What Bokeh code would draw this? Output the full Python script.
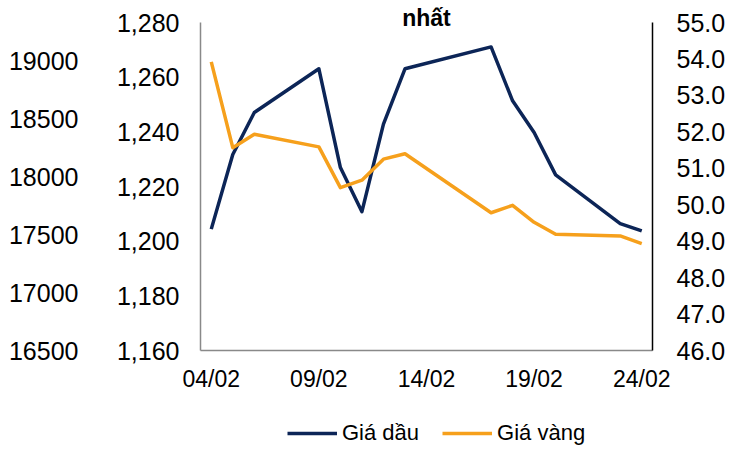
from bokeh.plotting import figure
from bokeh.layouts import column
from bokeh.models import (Range1d, LinearAxis, FixedTicker,
                          NumeralTickFormatter, Legend, LegendItem, Label)
from bokeh.embed import file_html
from bokeh.resources import INLINE

# ---- data ----
days = [4, 5, 6, 9, 10, 11, 12, 13, 17, 18, 19, 20, 23, 24]          # day of February
oil = [49.33, 51.38, 52.53, 53.73, 51.02, 49.81, 52.21, 53.73, 54.33,
       52.85, 51.98, 50.82, 49.48, 49.28]                               # Giá dầu (right axis)
gold = [1265.6, 1234.2, 1239.1, 1234.5, 1219.6, 1222.3, 1230.0, 1232.0,
        1210.4, 1213.1, 1206.9, 1202.5, 1201.9, 1199.1]                 # Giá vàng (left axis)
tick_days = [4, 9, 14, 19, 24]
tick_labels = ["04/02", "09/02", "14/02", "19/02", "24/02"]
gold_ticks = [1160, 1180, 1200, 1220, 1240, 1260, 1280]
oil_ticks = [46, 47, 48, 49, 50, 51, 52, 53, 54, 55]
far_ticks = [16500, 17000, 17500, 18000, 18500, 19000]
series_names = ["Giá dầu", "Giá vàng"]
title_text = "nhất"

NAVY = "#0c2557"
ORANGE = "#f6a01c"
FONT = "Liberation Sans"

# plot area: axes span 328 px, with 22 px of headroom above them for the title
AX_H, HEAD = 328.0, 22.0
def padded(lo, hi):
    return Range1d(lo, hi + (hi - lo) * HEAD / AX_H)

p = figure(width=728, height=400, output_backend="svg", toolbar_location=None,
           x_range=Range1d(3.5, 24.5), y_range=padded(1160, 1280),
           min_border_left=200, min_border_right=71, min_border_top=0,
           min_border_bottom=50, background_fill_color="white",
           border_fill_color="white")
p.outline_line_color = None
p.grid.visible = False
p.extra_y_ranges = {"oil": padded(46, 55), "far": padded(16500, 19330)}

def style_axis(ax, size, standoff, line_color):
    ax.major_tick_line_color = None
    ax.minor_tick_line_color = None
    ax.major_tick_out = 0
    ax.major_tick_in = 0
    ax.minor_tick_out = 0
    ax.minor_tick_in = 0
    ax.major_label_standoff = standoff
    ax.major_label_text_font = FONT
    ax.major_label_text_font_size = size
    ax.major_label_text_color = "#000000"
    ax.axis_line_color = line_color
    ax.axis_line_width = 1.5

# inner left axis (gold)
ly = p.yaxis[0]
ly.ticker = FixedTicker(ticks=gold_ticks)
ly.formatter = NumeralTickFormatter(format="0,0")
ly.bounds = (gold_ticks[0], gold_ticks[-1])
style_axis(ly, "25px", 21, "#898989")

# far left axis
far = LinearAxis(y_range_name="far", ticker=FixedTicker(ticks=far_ticks),
                 formatter=NumeralTickFormatter(format="0"))
style_axis(far, "25px", 35, None)
p.add_layout(far, "left")

# right axis (oil)
ry = LinearAxis(y_range_name="oil", ticker=FixedTicker(ticks=oil_ticks),
                formatter=NumeralTickFormatter(format="0.0"),
                bounds=(oil_ticks[0], oil_ticks[-1]))
style_axis(ry, "25px", 24, "#000000")
p.add_layout(ry, "right")

# x axis
xa = p.xaxis[0]
xa.ticker = FixedTicker(ticks=tick_days)
xa.major_label_overrides = {d: t for d, t in zip(tick_days, tick_labels)}
style_axis(xa, "23px", 15, "#898989")

p.line(days, oil, y_range_name="oil", line_color=NAVY, line_width=3.5,
       line_join="round")
p.line(days, gold, line_color=ORANGE, line_width=3.5, line_join="round")

# title fragment, partly above the canvas as in the reference
p.add_layout(Label(x=14, y=350, y_units="screen", text=title_text,
                   text_align="center", text_baseline="alphabetic",
                   text_font=FONT, text_font_size="23px",
                   text_font_style="bold", text_color="#000000",
                   y_offset=-17))

# ---- legend strip below the chart (its frame is aligned with the chart's) ----
lg = figure(width=728, height=46, output_backend="svg", toolbar_location=None,
            x_range=Range1d(0, 1), y_range=Range1d(0, 1),
            min_border_left=0, min_border_right=0, min_border_top=0,
            min_border_bottom=0, x_axis_type=None, y_axis_type=None,
            background_fill_color="white", border_fill_color="white")
lg.outline_line_color = None
lg.grid.visible = False
nan = float("nan")
k_oil = lg.line(x=[nan], y=[nan], line_color=NAVY, line_width=3.5)
k_gold = lg.line(x=[nan], y=[nan], line_color=ORANGE, line_width=3.5)
legend = Legend(items=[LegendItem(label=series_names[0], renderers=[k_oil]),
                       LegendItem(label=series_names[1], renderers=[k_gold])],
                orientation="horizontal", location=(87, 0),
                glyph_width=50, glyph_height=18, label_height=18,
                label_standoff=5, spacing=23, padding=0, margin=0,
                border_line_color=None, background_fill_alpha=0,
                label_text_font=FONT, label_text_font_size="22px",
                label_text_color="#000000")
lg.add_layout(legend, "center")

open("out.html", "w").write(file_html(column(p, lg, spacing=0), INLINE))
